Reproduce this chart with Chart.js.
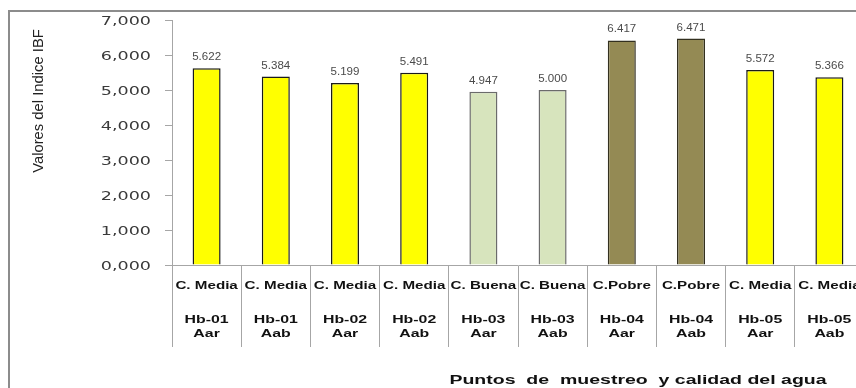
<!DOCTYPE html>
<html>
<head>
<meta charset="utf-8">
<script src="https://cdn.jsdelivr.net/npm/chart.js@4/dist/chart.umd.min.js"></script>
<style>
  html, body { margin: 0; padding: 0; background: #fff; overflow: hidden; }
  #wrap { width: 880px; height: 388px; }
</style>
</head>
<body>
<div id="wrap"><canvas id="chart" width="880" height="388"></canvas></div>
<script>
// sampling points, water quality class and IBF index value
const puntos = ['Hb-01', 'Hb-01', 'Hb-02', 'Hb-02', 'Hb-03', 'Hb-03', 'Hb-04', 'Hb-04', 'Hb-05', 'Hb-05'];
const sitios = ['Aar', 'Aab', 'Aar', 'Aab', 'Aar', 'Aab', 'Aar', 'Aab', 'Aar', 'Aab'];
const calidad = ['C. Media', 'C. Media', 'C. Media', 'C. Media', 'C. Buena', 'C. Buena', 'C.Pobre', 'C.Pobre', 'C. Media', 'C. Media'];
const valoresIBF = [5.622, 5.384, 5.199, 5.491, 4.947, 5.000, 6.417, 6.471, 5.572, 5.366];
const yTickLabels = ['0,000', '1,000', '2,000', '3,000', '4,000', '5,000', '6,000', '7,000'];

const colores = {
  'C. Media': { fill: '#ffff00', border: '#1a1a1a' },
  'C. Buena': { fill: '#d7e4bd', border: '#6b6b6b' },
  'C.Pobre': { fill: '#948a54', border: '#33301f' },
};

// text squeezed/stretched horizontally
const drawText = (ctx, text, x, y, font, sx, align, color) => {
  ctx.save();
  ctx.font = font;
  ctx.fillStyle = color;
  ctx.textAlign = 'left';
  ctx.textBaseline = 'alphabetic';
  const w = ctx.measureText(text).width * sx;
  const left = align === 'center' ? x - w / 2 : align === 'right' ? x - w : x;
  ctx.translate(left, y);
  ctx.scale(sx, 1);
  ctx.fillText(text, 0, 0);
  ctx.restore();
};

const framePlugin = {
  id: 'frame',
  beforeDraw(chart) {
    const { ctx } = chart;
    ctx.save();
    ctx.fillStyle = '#fff';
    ctx.fillRect(0, 0, chart.width, chart.height);
    ctx.strokeStyle = '#8c8c8c';
    ctx.lineWidth = 2;
    ctx.beginPath();
    ctx.moveTo(chart.width, 11);
    ctx.lineTo(9, 11);
    ctx.lineTo(9, chart.height);
    ctx.stroke();
    ctx.restore();
  },
};

const labelsPlugin = {
  id: 'labels',
  afterDraw(chart) {
    const { ctx } = chart;
    const x = chart.scales.x;
    const y = chart.scales.y;

    // y ticks
    y.ticks.forEach((t, i) => {
      const py = y.getPixelForValue(t.value);
      drawText(ctx, yTickLabels[i], 151, py + 4.5, '12px "DejaVu Sans"', 1.46, 'right', '#3a3a3a');
    });

    // category labels, two rows
    calidad.forEach((c, i) => {
      const px = x.getPixelForValue(i);
      drawText(ctx, c, px, 289, 'bold 11px "Liberation Sans"', 1.38, 'center', '#111');
      drawText(ctx, puntos[i], px, 323, 'bold 11.5px "Liberation Sans"', 1.38, 'center', '#111');
      drawText(ctx, sitios[i], px, 337, 'bold 11.5px "Liberation Sans"', 1.38, 'center', '#111');
    });

    // values above bars
    chart.getDatasetMeta(0).data.forEach((bar, i) => {
      drawText(ctx, valoresIBF[i].toFixed(3), bar.x, bar.y - 8, '11px "Liberation Sans"', 1.05, 'center', '#4a4a4a');
    });

    // axis titles
    drawText(ctx, 'Puntos  de  muestreo  y calidad del agua', 638, 384, 'bold 12.5px "Liberation Sans"', 1.56, 'center', '#111');
    ctx.save();
    ctx.translate(43, 101);
    ctx.rotate(-Math.PI / 2);
    ctx.font = '14.8px "Liberation Sans"';
    ctx.fillStyle = '#222';
    ctx.textAlign = 'center';
    ctx.textBaseline = 'alphabetic';
    ctx.fillText('Valores del Indice IBF', 0, 0);
    ctx.restore();
  },
};

new Chart(document.getElementById('chart'), {
  type: 'bar',
  data: {
    labels: puntos.map((p, i) => `${calidad[i]} ${p} ${sitios[i]}`),
    datasets: [
      {
        data: valoresIBF,
        backgroundColor: calidad.map((c) => colores[c].fill),
        borderColor: calidad.map((c) => colores[c].border),
        borderWidth: 1.5,
        borderSkipped: 'bottom',
        categoryPercentage: 1,
        barPercentage: 0.405,
      },
    ],
  },
  options: {
    responsive: false,
    animation: false,
    devicePixelRatio: 1,
    layout: { padding: { top: 20, right: 16, left: 0, bottom: 0 } },
    plugins: {
      legend: { display: false },
      tooltip: { enabled: false },
    },
    scales: {
      x: {
        ticks: { display: false },
        grid: {
          offset: true,
          drawOnChartArea: false,
          drawTicks: true,
          tickLength: 82,
          color: '#a6a6a6',
        },
        border: { color: '#a6a6a6' },
        afterFit: (scale) => { scale.height = 123; },
      },
      y: {
        min: 0,
        max: 7,
        ticks: { display: false, stepSize: 1 },
        grid: {
          drawOnChartArea: false,
          drawTicks: true,
          tickLength: 7,
          color: '#a6a6a6',
        },
        border: { color: '#a6a6a6' },
        afterFit: (scale) => { scale.width = 172; },
      },
    },
  },
  plugins: [framePlugin, labelsPlugin],
});
</script>
</body>
</html>
